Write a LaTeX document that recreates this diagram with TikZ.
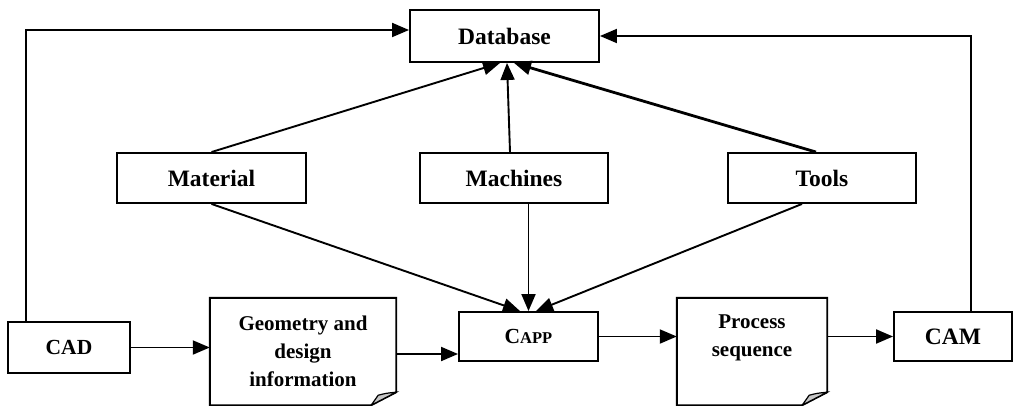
\documentclass[tikz,border=0pt]{standalone}
\usepackage{fontspec}
\setmainfont{Liberation Serif}
\usepackage{tikz}
\usetikzlibrary{arrows.meta,positioning,calc}

\begin{document}
\begin{tikzpicture}[x=1pt,y=-1pt]
			\tikzstyle{Box}		= [draw, line width=1.9pt, inner sep=0pt, font=\fontsize{23.5}{28}\selectfont\bfseries]
			\tikzstyle{Doc}		= [inner sep=0pt, align=center, minimum width=186pt, minimum height=107pt, font=\fontsize{21}{28}\selectfont\bfseries]
			\tikzstyle{Link}	= [line width=1.9pt, -{Triangle[length=17pt,width=14pt]}]
			\tikzstyle{Curl}	= [fill=gray!45, line width=1.2pt]

			\useasboundingbox (0,0) rectangle (1016,406);

			\node (db) at (504.5,36) [Box, minimum width=189pt, minimum height=52pt] {Database};
			\node (mat) at (211.5,178) [Box, minimum width=189pt, minimum height=50pt] {Material};
			\node (mach) at (514,178) [Box, minimum width=188pt, minimum height=50pt] {Machines};
			\node (tools) at (822,178) [Box, minimum width=188pt, minimum height=50pt] {Tools};
			\node (cad) at (69,347.5) [Box, minimum width=122pt, minimum height=51pt, font=\fontsize{21.5}{28}\selectfont\bfseries] {CAD};
			\node (capp) at (528.5,336.5) [Box, minimum width=139pt, minimum height=49pt, font=\fontsize{21.5}{28}\selectfont\bfseries] {C{\fontsize{16.5}{20}\selectfont APP}};
			\node (cam) at (953,336.5) [Box, minimum width=118pt, minimum height=49pt] {CAM};
			\node (geo) at (303,351.5) [Doc] {Geometry and\\design\\information};
			\node (proc) at (752,354) [Doc, minimum width=150pt, minimum height=102pt] {Process\\sequence\\\strut};

			% document outlines with curled corner
			\draw [line width=1.9pt] (geo.north west) -- (geo.north east) -- ([yshift=13pt]geo.south east) -- ([xshift=-25pt]geo.south east) -- (geo.south west) -- cycle;
			\filldraw [Curl] ([yshift=13pt]geo.south east) .. controls ([xshift=-10pt,yshift=12pt]geo.south east) .. ([xshift=-18pt,yshift=10pt]geo.south east) -- ([xshift=-25pt]geo.south east) -- cycle;
			\draw [line width=1.9pt] ([yshift=5pt]proc.north west) -- ([yshift=5pt]proc.north east) -- ([yshift=13pt]proc.south east) -- ([xshift=-25pt]proc.south east) -- (proc.south west) -- cycle;
			\filldraw [Curl] ([yshift=13pt]proc.south east) .. controls ([xshift=-10pt,yshift=12pt]proc.south east) .. ([xshift=-18pt,yshift=10pt]proc.south east) -- ([xshift=-25pt]proc.south east) -- cycle;

			% feedback to the database
			\draw [Link] ([xshift=18.5pt]cad.north west) |- ([yshift=6pt]db.west);
			\draw [Link] ([xshift=18pt]cam.north) |- (db.east);

			% resources to the database
			\draw [Link] (mat.north) -- ([xshift=-4.5pt]db.south);
			\draw [Link] ([xshift=-4pt]mach.north) -- ([xshift=2.5pt]db.south);
			\draw [Link, line width=2.8pt] ([xshift=-6pt]tools.north) -- ([xshift=9.5pt]db.south);

			% resources to CAPP
			\draw [Link] (mat.south) -- ([xshift=-8.5pt]capp.north);
			\draw [Link] ([xshift=14.5pt]mach.south) -- (capp.north);
			\draw [Link] ([xshift=-20pt]tools.south) -- ([xshift=7.5pt]capp.north);

			% main flow
			\coordinate (g1) at ([yshift=-2.5pt]geo.east);
			\draw [Link] (cad.east) -- (cad.east -| geo.west);
			\draw [Link] (g1) -- (g1 -| capp.west);
			\draw [Link] (capp.east) -- (capp.east -| proc.west);
			\draw [Link] (cam.west -| proc.east) -- (cam.west);
		\end{tikzpicture}
\end{document}
